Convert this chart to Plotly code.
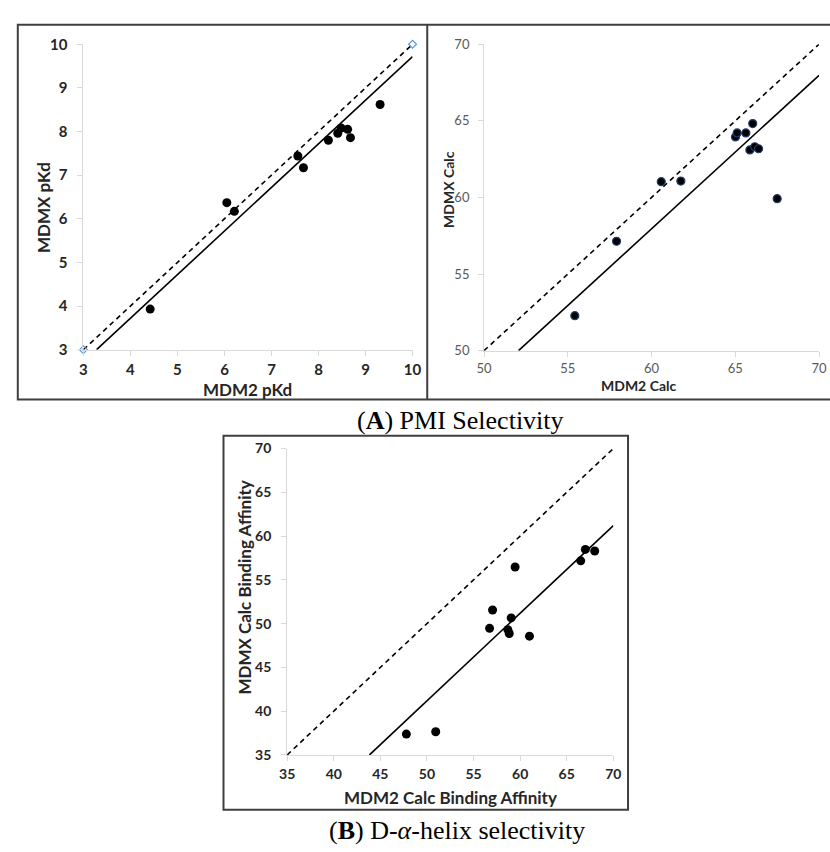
import plotly.graph_objects as go

W, H = 830, 852

# ---- Panel A (left): measured pKd ----
pkd_mdm2 = [4.42, 6.05, 6.21, 7.56, 7.68, 8.21, 8.41, 8.48, 8.62, 8.68, 9.31]
pkd_mdmx = [3.93, 6.37, 6.17, 7.44, 7.17, 7.80, 7.96, 8.08, 8.05, 7.86, 8.62]
pkd_fit_x = [3.28, 10.0]
pkd_fit_y = [3.0, 9.72]
pkd_ident = [3, 10]
pkd_ticks = [3, 4, 5, 6, 7, 8, 9, 10]

# ---- Panel A (right): calculated values ----
calc_mdm2 = [55.42, 57.91, 60.58, 61.75, 65.01, 65.11, 65.63, 66.04, 65.87, 66.16, 66.39, 67.50]
calc_mdmx = [52.28, 57.14, 61.03, 61.07, 63.95, 64.21, 64.21, 64.82, 63.10, 63.31, 63.18, 59.92]
calc_fit_x = [52.06, 70.0]
calc_fit_y = [50.0, 67.97]
calc_ident = [50, 70]
calc_ticks = [50, 55, 60, 65, 70]

# ---- Panel B: D-alpha-helix calculated binding affinity ----
dah_mdm2 = [59.46, 57.04, 56.72, 59.04, 58.68, 58.83, 61.0, 66.5, 67.0, 68.0, 47.79, 50.94]
dah_mdmx = [56.47, 51.55, 49.46, 50.65, 49.31, 48.87, 48.57, 57.17, 58.48, 58.29, 37.38, 37.65]
dah_fit_x = [43.83, 70.0]
dah_fit_y = [35.0, 61.2]
dah_ident = [35, 70]
dah_ticks = [35, 40, 45, 50, 55, 60, 65, 70]

SANS = "Lato, 'Open Sans', sans-serif"
SERIF = "'Liberation Serif', 'DejaVu Serif', serif"
AXIS_GREY = "#d9d9d9"
FRAME = "#3f3f3f"


def px(x):
    return x / W


def py(y):
    return 1 - y / H


fig = go.Figure()


def add_panel(n, xs, ys, fx, fy, ident, mk, ident_markers=False):
    xa = "x" if n == 1 else f"x{n}"
    ya = "y" if n == 1 else f"y{n}"
    fig.add_trace(go.Scatter(
        x=ident, y=ident, xaxis=xa, yaxis=ya, cliponaxis=False,
        mode="lines+markers" if ident_markers else "lines",
        line=dict(color="#000000", width=1.6, dash="5px,4px"),
        marker=dict(symbol="diamond-open", size=6, color="#5b9bd5",
                    line=dict(width=1.2, color="#5b9bd5")),
        showlegend=False, hoverinfo="skip"))
    fig.add_trace(go.Scatter(
        x=fx, y=fy, xaxis=xa, yaxis=ya, mode="lines",
        line=dict(color="#000000", width=1.6),
        showlegend=False, hoverinfo="skip"))
    fig.add_trace(go.Scatter(
        x=xs, y=ys, xaxis=xa, yaxis=ya, mode="markers", cliponaxis=False,
        marker=mk, showlegend=False))


add_panel(1, pkd_mdm2, pkd_mdmx, pkd_fit_x, pkd_fit_y, pkd_ident,
          dict(size=9, color="#000000"), ident_markers=True)
add_panel(2, calc_mdm2, calc_mdmx, calc_fit_x, calc_fit_y, calc_ident,
          dict(size=8, color="#000000", line=dict(width=1.2, color="#1f3d6b")))
add_panel(3, dah_mdm2, dah_mdmx, dah_fit_x, dah_fit_y, dah_ident,
          dict(size=9, color="#000000"))


def axis(dom, rng, ticks, font, anchor, bold, standoff):
    labels = [f"<b>{t}</b>" if bold else str(t) for t in ticks]
    return dict(domain=dom, range=rng, tickvals=ticks, ticktext=labels,
                showgrid=False, zeroline=False, showline=True,
                linecolor=AXIS_GREY, linewidth=1,
                ticks="outside", ticklen=5, tickcolor=AXIS_GREY, tickwidth=1,
                tickfont=font, anchor=anchor, fixedrange=True,
                ticklabelstandoff=standoff)


dark15 = dict(family=SANS, size=15, color="#262626", weight="bold")
dark14 = dict(family=SANS, size=14, color="#262626", weight="bold")
grey13 = dict(family=SANS, size=13, color="#595959")

fig.update_layout(
    width=W, height=H, margin=dict(l=0, r=0, t=0, b=0),
    paper_bgcolor="white", plot_bgcolor="white",
    xaxis=axis([px(77), px(413)], [3, 10], pkd_ticks, dark15, "y", True, 1),
    yaxis=axis([py(347), py(35)], [3, 10], pkd_ticks, dark15, "x", True, 7),
    xaxis2=axis([px(486), px(828)], [50, 70], calc_ticks, grey13, "y2", False, 1),
    yaxis2=axis([py(348), py(35)], [50, 70], calc_ticks, grey13, "x2", False, 6),
    xaxis3=axis([px(285), px(618)], [35, 70], dah_ticks, dark14, "y3", True, 1),
    yaxis3=axis([py(761), py(448)], [35, 70], dah_ticks, dark14, "x3", True, 7),
)

# Panel frames
frames = [
    (10, 15, 842, 398),
    (428, 15, 428, 398),
    (220, 435, 633, 817),
]
for x0, y0, x1, y1 in frames:
    if x0 == x1:
        fig.add_shape(type="line", xref="paper", yref="paper",
                      x0=px(x0), x1=px(x1), y0=py(y0), y1=py(y1),
                      line=dict(color=FRAME, width=2))
    else:
        fig.add_shape(type="rect", xref="paper", yref="paper",
                      x0=px(x0), x1=px(x1), y0=py(y0), y1=py(y1),
                      line=dict(color=FRAME, width=2), fillcolor="rgba(0,0,0,0)")

# Axis titles
titles = [
    ("MDM2 pKd", 245, 388, 0, 17),
    ("MDMX pKd", 36, 202, -90, 17),
    ("MDM2 Calc", 644, 384, 0, 14),
    ("MDMX Calc", 449, 183, -90, 14),
    ("MDM2 Calc Binding Affinity", 452, 804, 0, 17),
    ("MDMX Calc Binding Affinity", 241, 590, -90, 17),
]
for text, x, y, ang, size in titles:
    fig.add_annotation(text=f"<b>{text}</b>", xref="paper", yref="paper",
                       x=px(x), y=py(y), showarrow=False, textangle=ang,
                       xanchor="center", yanchor="middle",
                       font=dict(family=SANS, size=size, color="#262626"))

# Panel captions
captions = [
    ("(<b>A</b>) PMI Selectivity", 462, 419),
    ("(<b>B</b>) D-<i>α</i>-helix selectivity", 458, 838),
]
for text, x, y in captions:
    fig.add_annotation(text=text, xref="paper", yref="paper",
                       x=px(x), y=py(y), showarrow=False,
                       xanchor="center", yanchor="middle",
                       font=dict(family=SERIF, size=26, color="#000000"))

fig.write_html("out.html")
